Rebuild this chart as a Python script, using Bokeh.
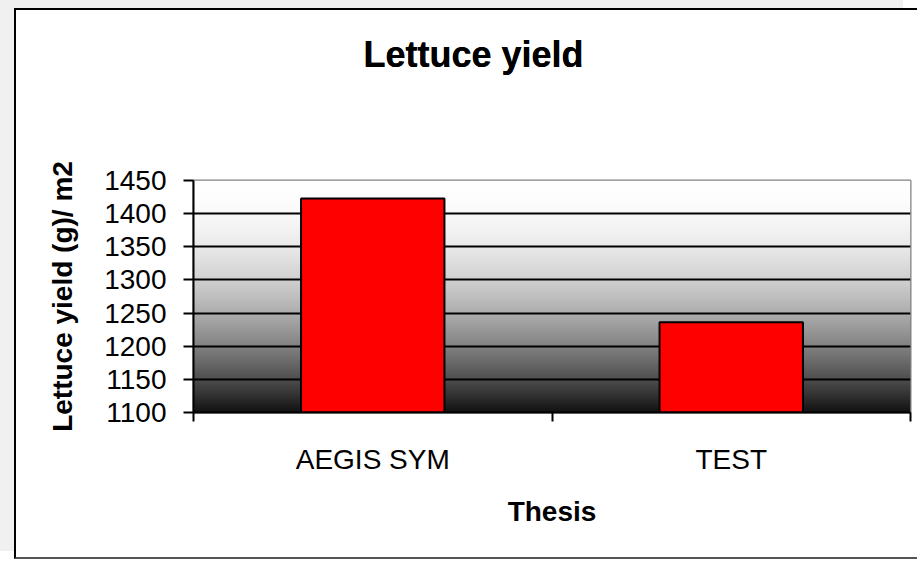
import numpy as np
from bokeh.plotting import figure
from bokeh.models import FixedTicker, Range1d, LinearAxis, ColumnDataSource
from bokeh.embed import file_html
from bokeh.resources import INLINE

categories = ["AEGIS SYM", "TEST"]
yields = [1423, 1236]
y_ticks = [1100, 1150, 1200, 1250, 1300, 1350, 1400, 1450]
title_text = "Lettuce yield"
x_title = "Thesis"
y_title = "Lettuce yield (g)/ m2"

FONT = "Liberation Sans"
n = len(categories)
ymin, ymax = y_ticks[0], y_ticks[-1]

p = figure(width=903, height=551, x_range=Range1d(0, n), y_range=Range1d(ymin, ymax),
           output_backend="svg", toolbar_location=None,
           min_border_left=177, min_border_right=9, min_border_top=142, min_border_bottom=149,
           background_fill_color="white", border_fill_color="white")
p.styles = {"position": "relative", "left": "14px", "top": "8px",
            "border-left": "2px solid black", "border-top": "2px solid black",
            "border-bottom": "2px solid #555555",
            "box-shadow": "-14px -8px 0 0 #f0f0f0"}

# gradient backdrop (white at top to near-black at bottom)
N = 300
t = np.linspace(1.0, 0.0, N)
g = np.clip(255 - 237 * t ** 1.9, 0, 255).astype(np.uint32)
img = ((255 << 24) | (g << 16) | (g << 8) | g).reshape(N, 1).astype(np.uint32)
p.image_rgba(image=[img], x=0, y=ymin, dw=n, dh=ymax - ymin, level="image")

src = ColumnDataSource(dict(x=[i + 0.5 for i in range(n)], top=yields, cat=categories))
p.vbar(x="x", top="top", bottom=ymin, width=0.4, source=src,
       fill_color="#ff0000", line_color="black", line_width=2)

# blank spacer (an empty axis) between the title and the plot area
spacer = LinearAxis(ticker=FixedTicker(ticks=[]), major_tick_out=29, major_tick_in=0,
                    minor_tick_out=0, minor_tick_in=0, major_label_standoff=0,
                    axis_line_color=None, major_tick_line_color=None,
                    minor_tick_line_color=None)

p.title.text = title_text
p.title.align = "left"
p.title.offset = 170
p.title.standoff = 42
p.title.text_font = FONT
p.title.text_font_size = "36px"
p.title.text_font_style = "bold"
p.title.text_color = "black"
p.above = [spacer, p.title]

# x axis (the one below the plot)
xa = p.below[0]
xa.ticker = FixedTicker(ticks=[i + 0.5 for i in range(n)], minor_ticks=list(range(n + 1)))
xa.major_label_overrides = {i + 0.5: c for i, c in enumerate(categories)}
xa.major_tick_out = 0
xa.major_tick_in = 0
xa.minor_tick_out = 9
xa.minor_tick_in = 0
xa.minor_tick_line_color = "black"
xa.minor_tick_line_width = 2
xa.axis_line_color = "black"
xa.axis_line_width = 2
xa.major_label_text_font = FONT
xa.major_label_text_font_size = "28px"
xa.major_label_text_color = "black"
xa.major_label_standoff = 22
xa.axis_label = x_title
xa.axis_label_text_font = FONT
xa.axis_label_text_font_size = "28px"
xa.axis_label_text_font_style = "bold"
xa.axis_label_text_color = "black"
xa.axis_label_standoff = 18

# y axis
ya = p.left[0]
ya.ticker = FixedTicker(ticks=y_ticks)
ya.major_tick_out = 10
ya.major_tick_in = 0
ya.minor_tick_line_color = None
ya.major_tick_line_color = "black"
ya.major_tick_line_width = 2
ya.axis_line_color = "black"
ya.axis_line_width = 2
ya.major_label_text_font = FONT
ya.major_label_text_font_size = "28px"
ya.major_label_text_color = "black"
ya.major_label_standoff = 17
ya.axis_label = y_title
ya.axis_label_text_font = FONT
ya.axis_label_text_font_size = "28px"
ya.axis_label_text_font_style = "bold"
ya.axis_label_text_color = "black"
ya.axis_label_standoff = 23

p.xgrid.visible = False
p.ygrid.ticker = FixedTicker(ticks=y_ticks[1:-1])
p.ygrid.grid_line_color = "black"
p.ygrid.grid_line_width = 2

p.outline_line_color = "#808080"
p.outline_line_width = 2

open("out.html", "w").write(file_html(p, INLINE))
